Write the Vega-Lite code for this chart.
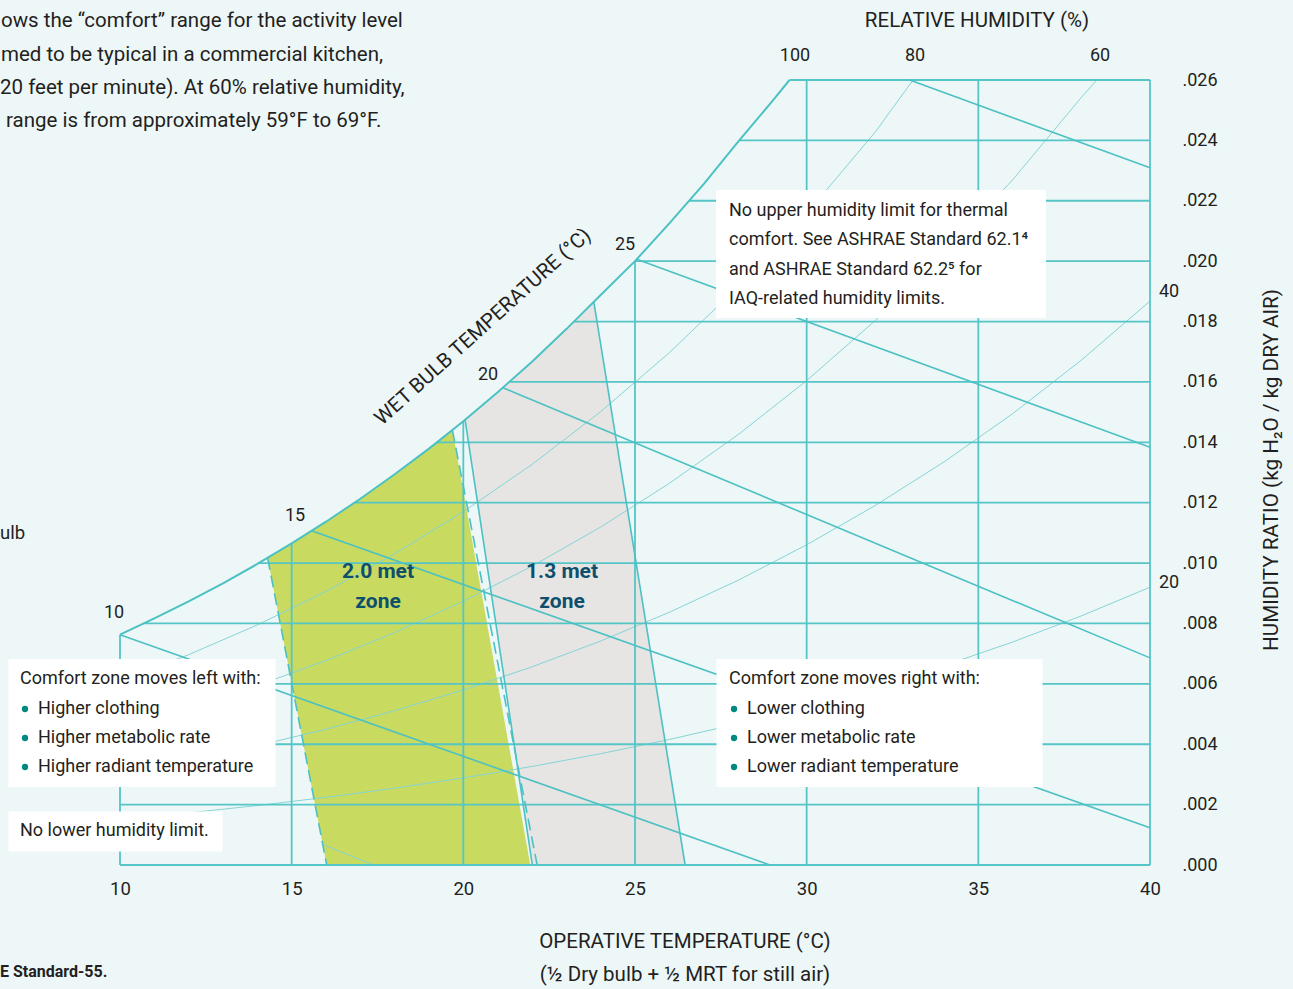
{
  "$schema": "https://vega.github.io/schema/vega-lite/v6.json",
  "width": 1030,
  "height": 785,
  "autosize": {"type": "none"},
  "padding": {"left": 120, "top": 80, "right": 143, "bottom": 124},
  "background": "#EEF7F8",
  "config": {
    "view": {"stroke": null},
    "font": "Liberation Sans Narrow, Roboto, sans-serif",
    "text": {"font": "Liberation Sans Narrow, Roboto, sans-serif", "color": "#231F20"}
  },
  "datasets": {
    "sat": [
      {"T": 10, "W": 0.00763}, {"T": 11, "W": 0.00817}, {"T": 12, "W": 0.00873}, {"T": 13, "W": 0.00933},
      {"T": 14, "W": 0.00997}, {"T": 15, "W": 0.01065}, {"T": 16, "W": 0.01137}, {"T": 17, "W": 0.01213},
      {"T": 18, "W": 0.01294}, {"T": 19, "W": 0.01379}, {"T": 20, "W": 0.0147}, {"T": 21, "W": 0.01566},
      {"T": 22, "W": 0.01667}, {"T": 23, "W": 0.01775}, {"T": 24, "W": 0.01888}, {"T": 25, "W": 0.02},
      {"T": 26, "W": 0.02125}, {"T": 27, "W": 0.02255}, {"T": 28, "W": 0.02395}, {"T": 29, "W": 0.0253},
      {"T": 29.5, "W": 0.026}
    ],
    "rh": [
      {"g": 80, "T": 10, "W": 0.00609}, {"g": 80, "T": 12, "W": 0.006966}, {"g": 80, "T": 14, "W": 0.007952},
      {"g": 80, "T": 16, "W": 0.009061}, {"g": 80, "T": 18, "W": 0.010307}, {"g": 80, "T": 20, "W": 0.011703},
      {"g": 80, "T": 22, "W": 0.013266}, {"g": 80, "T": 24, "W": 0.015015}, {"g": 80, "T": 26, "W": 0.016968},
      {"g": 80, "T": 28, "W": 0.019147}, {"g": 80, "T": 30, "W": 0.021577}, {"g": 80, "T": 32, "W": 0.024282},
      {"g": 80, "T": 33.1, "W": 0.026},
      {"g": 60, "T": 10, "W": 0.004557}, {"g": 60, "T": 12, "W": 0.00521}, {"g": 60, "T": 14, "W": 0.005945},
      {"g": 60, "T": 16, "W": 0.006771}, {"g": 60, "T": 18, "W": 0.007698}, {"g": 60, "T": 20, "W": 0.008736},
      {"g": 60, "T": 22, "W": 0.009897}, {"g": 60, "T": 24, "W": 0.011193}, {"g": 60, "T": 26, "W": 0.01264},
      {"g": 60, "T": 28, "W": 0.014251}, {"g": 60, "T": 30, "W": 0.016043}, {"g": 60, "T": 32, "W": 0.018036},
      {"g": 60, "T": 34, "W": 0.020241}, {"g": 60, "T": 36, "W": 0.022695}, {"g": 60, "T": 38, "W": 0.025424},
      {"g": 60, "T": 38.45, "W": 0.026},
      {"g": 40, "T": 10, "W": 0.00303}, {"g": 40, "T": 12, "W": 0.003463}, {"g": 40, "T": 14, "W": 0.003951},
      {"g": 40, "T": 16, "W": 0.004498}, {"g": 40, "T": 18, "W": 0.005111}, {"g": 40, "T": 20, "W": 0.005797},
      {"g": 40, "T": 22, "W": 0.006563}, {"g": 40, "T": 24, "W": 0.007418}, {"g": 40, "T": 26, "W": 0.00837},
      {"g": 40, "T": 28, "W": 0.009429}, {"g": 40, "T": 30, "W": 0.010604}, {"g": 40, "T": 32, "W": 0.011909},
      {"g": 40, "T": 34, "W": 0.01335}, {"g": 40, "T": 36, "W": 0.014948}, {"g": 40, "T": 38, "W": 0.016721},
      {"g": 40, "T": 40, "W": 0.018677},
      {"g": 20, "T": 10, "W": 0.001511}, {"g": 20, "T": 12, "W": 0.001727}, {"g": 20, "T": 14, "W": 0.001969},
      {"g": 20, "T": 16, "W": 0.002241}, {"g": 20, "T": 18, "W": 0.002545}, {"g": 20, "T": 20, "W": 0.002885},
      {"g": 20, "T": 22, "W": 0.003264}, {"g": 20, "T": 24, "W": 0.003687}, {"g": 20, "T": 26, "W": 0.004157},
      {"g": 20, "T": 28, "W": 0.004679}, {"g": 20, "T": 30, "W": 0.005257}, {"g": 20, "T": 32, "W": 0.005898},
      {"g": 20, "T": 34, "W": 0.006604}, {"g": 20, "T": 36, "W": 0.007385}, {"g": 20, "T": 38, "W": 0.00825},
      {"g": 20, "T": 40, "W": 0.0092}
    ],
    "hgrid": [
      {"W": 0, "T": 10, "T2": 40}, {"W": 0.002, "T": 10, "T2": 40}, {"W": 0.004, "T": 10, "T2": 40},
      {"W": 0.006, "T": 10, "T2": 40}, {"W": 0.008, "T": 10.685, "T2": 40}, {"W": 0.01, "T": 14.044, "T2": 40},
      {"W": 0.012, "T": 16.829, "T2": 40}, {"W": 0.014, "T": 19.231, "T2": 40}, {"W": 0.016, "T": 21.337, "T2": 40},
      {"W": 0.018, "T": 23.221, "T2": 40}, {"W": 0.02, "T": 25.0, "T2": 40}, {"W": 0.022, "T": 26.577, "T2": 40},
      {"W": 0.024, "T": 28.037, "T2": 40}, {"W": 0.026, "T": 29.5, "T2": 40}
    ],
    "vgrid": [
      {"T": 10, "W": 0, "W2": 0.00763}, {"T": 15, "W": 0, "W2": 0.01065}, {"T": 20, "W": 0, "W2": 0.0147},
      {"T": 25, "W": 0, "W2": 0.02}, {"T": 30, "W": 0, "W2": 0.026}, {"T": 35, "W": 0, "W2": 0.026},
      {"T": 40, "W": 0, "W2": 0.026}
    ],
    "wb": [
      {"T": 10, "W": 0.00763, "T2": 28.93, "W2": 0},
      {"T": 15.58, "W": 0.01107, "T2": 40, "W2": 0.00123},
      {"T": 21.15, "W": 0.01581, "T2": 40, "W2": 0.00686},
      {"T": 25.05, "W": 0.02006, "T2": 40, "W2": 0.01384},
      {"T": 33.0, "W": 0.026, "T2": 40, "W2": 0.02309},
      {"T": 20.05, "W": 0.01475, "T2": 22.01, "W2": 0},
      {"T": 23.8, "W": 0.018654, "T2": 26.46, "W2": 0}
    ],
    "dashed": [
      {"T": 14.3, "W": 0.01017, "T2": 16.02, "W2": 0},
      {"T": 19.68, "W": 0.01441, "T2": 22.15, "W2": 0}
    ],
    "thin": [
      {"T": 15.95, "W": 0.00066, "T2": 17.37, "W2": 0}
    ],
    "green": [
      {"W": 0, "T": 16.02, "T2": 21.95},
      {"W": 0.01017, "T": 14.3, "T2": 20.348},
      {"W": 0.0105, "T": 14.779, "T2": 20.296},
      {"W": 0.011, "T": 15.486, "T2": 20.218},
      {"W": 0.0115, "T": 16.171, "T2": 20.139},
      {"W": 0.012, "T": 16.829, "T2": 20.06},
      {"W": 0.0125, "T": 17.457, "T2": 19.981},
      {"W": 0.013, "T": 18.071, "T2": 19.903},
      {"W": 0.0135, "T": 18.659, "T2": 19.824},
      {"W": 0.014, "T": 19.231, "T2": 19.745},
      {"W": 0.01441, "T": 19.68, "T2": 19.68}
    ],
    "gray": [
      {"W": 0, "T": 22.01, "T2": 26.46},
      {"W": 0.01475, "T": 20.05, "T2": 24.357},
      {"W": 0.0155, "T": 20.833, "T2": 24.25},
      {"W": 0.016, "T": 21.337, "T2": 24.178},
      {"W": 0.0165, "T": 21.832, "T2": 24.107},
      {"W": 0.017, "T": 22.306, "T2": 24.036},
      {"W": 0.0175, "T": 22.769, "T2": 23.965},
      {"W": 0.018, "T": 23.221, "T2": 23.893},
      {"W": 0.018654, "T": 23.8, "T2": 23.8}
    ],
    "boxes": [
      {"T": 27.359, "T2": 36.971, "W": 0.022357, "W2": 0.018117},
      {"T": 6.752, "T2": 14.529, "W": 0.006823, "W2": 0.002583},
      {"T": 6.752, "T2": 12.985, "W": 0.001772, "W2": 0.000447},
      {"T": 27.374, "T2": 36.869, "W": 0.006823, "W2": 0.002583}
    ],
    "para": [
      {"T": 6.534, "W": 0.027954, "text": "ows the “comfort” range for the activity level"},
      {"T": 6.534, "W": 0.026828, "text": "med to be typical in a commercial kitchen,"},
      {"T": 6.505, "W": 0.025735, "text": "20 feet per minute). At 60% relative humidity,"},
      {"T": 6.68, "W": 0.024642, "text": "range is from approximately 59°F to 69°F."}
    ],
    "side": [
      {"T": 6.505, "W": 0.010996, "text": "ulb"}
    ],
    "foot": [
      {"T": 6.505, "W": -0.003544, "text": "E Standard-55."}
    ],
    "titles": [
      {"T": 34.961, "W": 0.027954, "text": "RELATIVE HUMIDITY (%)"},
      {"T": 26.456, "W": -0.00255, "text": "OPERATIVE TEMPERATURE (°C)"},
      {"T": 26.456, "W": -0.003643, "text": "(½ Dry bulb + ½ MRT for still air)"}
    ],
    "labels": [
      {"T": 29.66, "W": 0.026795, "text": "100"},
      {"T": 33.155, "W": 0.026795, "text": "80"},
      {"T": 38.544, "W": 0.026795, "text": "60"},
      {"T": 40.553, "W": 0.018978, "text": "40"},
      {"T": 40.553, "W": 0.00934, "text": "20"},
      {"T": 9.825, "W": 0.008346, "text": "10"},
      {"T": 15.097, "W": 0.011559, "text": "15"},
      {"T": 20.718, "W": 0.016229, "text": "20"},
      {"T": 24.709, "W": 0.020535, "text": "25"}
    ],
    "wbtitle": [
      {"T": 20.573, "W": 0.017819, "text": "WET BULB TEMPERATURE (°C)"}
    ],
    "rtitle": [
      {"T": 43.553, "W": 0.013083, "text": "HUMIDITY RATIO (kg H₂O / kg DRY AIR)"}
    ],
    "zone": [
      {"T": 17.515, "W": 0.009704, "text": "2.0 met"},
      {"T": 17.515, "W": 0.008711, "text": "zone"},
      {"T": 22.874, "W": 0.009704, "text": "1.3 met"},
      {"T": 22.874, "W": 0.008711, "text": "zone"}
    ],
    "boxtext": [
      {"T": 27.738, "W": 0.021661, "text": "No upper humidity limit for thermal"},
      {"T": 27.738, "W": 0.020701, "text": "comfort. See ASHRAE Standard 62.1⁴"},
      {"T": 27.738, "W": 0.019707, "text": "and ASHRAE Standard 62.2⁵ for"},
      {"T": 27.738, "W": 0.018747, "text": "IAQ-related humidity limits."},
      {"T": 7.087, "W": 0.00616, "text": "Comfort zone moves left with:"},
      {"T": 7.612, "W": 0.005167, "text": "Higher clothing"},
      {"T": 7.612, "W": 0.004206, "text": "Higher metabolic rate"},
      {"T": 7.612, "W": 0.003246, "text": "Higher radiant temperature"},
      {"T": 7.087, "W": 0.001126, "text": "No lower humidity limit."},
      {"T": 27.738, "W": 0.00616, "text": "Comfort zone moves right with:"},
      {"T": 28.262, "W": 0.005167, "text": "Lower clothing"},
      {"T": 28.262, "W": 0.004206, "text": "Lower metabolic rate"},
      {"T": 28.262, "W": 0.003246, "text": "Lower radiant temperature"}
    ],
    "bullets": [
      {"T": 7.233, "W": 0.005167}, {"T": 7.233, "W": 0.004206}, {"T": 7.233, "W": 0.003246},
      {"T": 27.884, "W": 0.005167}, {"T": 27.884, "W": 0.004206}, {"T": 27.884, "W": 0.003246}
    ]
  },
  "encoding": {
    "x": {
      "field": "T", "type": "quantitative",
      "scale": {"domain": [10, 40], "nice": false, "zero": false},
      "axis": {
        "orient": "bottom", "values": [10, 15, 20, 25, 30, 35, 40], "title": null,
        "domain": false, "ticks": false, "grid": false, "labelFlush": false,
        "labelPadding": 23, "labelBaseline": "middle", "labelFontSize": 18.5,
        "labelColor": "#231F20", "labelFont": "Liberation Sans Narrow, Roboto, sans-serif"
      }
    },
    "y": {
      "field": "W", "type": "quantitative",
      "scale": {"domain": [0, 0.026], "nice": false, "zero": false},
      "axis": {
        "orient": "right",
        "values": [0, 0.002, 0.004, 0.006, 0.008, 0.01, 0.012, 0.014, 0.016, 0.018, 0.02, 0.022, 0.024, 0.026],
        "labelExpr": "replace(format(datum.value, '.3f'), '0.', '.')",
        "title": null, "domain": false, "ticks": false, "grid": false, "labelFlush": false,
        "labelPadding": 32, "labelAlign": "left", "labelBaseline": "middle", "labelFontSize": 18,
        "labelColor": "#231F20", "labelFont": "Liberation Sans Narrow, Roboto, sans-serif"
      }
    }
  },
  "layer": [
    {"data": {"name": "gray"}, "mark": {"type": "area", "orient": "horizontal", "color": "#E6E5E3", "opacity": 1}, "encoding": {"x2": {"field": "T2"}}},
    {"data": {"name": "green"}, "mark": {"type": "area", "orient": "horizontal", "color": "#C8DA60", "opacity": 1}, "encoding": {"x2": {"field": "T2"}}},
    {"data": {"name": "rh"}, "mark": {"type": "line", "color": "#86D4D5", "strokeWidth": 1}, "encoding": {"detail": {"field": "g", "type": "nominal"}}},
    {"data": {"name": "thin"}, "mark": {"type": "rule", "color": "#86D4D5", "strokeWidth": 1}, "encoding": {"x2": {"field": "T2"}, "y2": {"field": "W2"}}},
    {"data": {"name": "hgrid"}, "mark": {"type": "rule", "color": "#55C5C6", "strokeWidth": 1.8}, "encoding": {"x2": {"field": "T2"}}},
    {"data": {"name": "vgrid"}, "mark": {"type": "rule", "color": "#55C5C6", "strokeWidth": 1.8}, "encoding": {"y2": {"field": "W2"}}},
    {"data": {"name": "wb"}, "mark": {"type": "rule", "color": "#4CC1C3", "strokeWidth": 1.6}, "encoding": {"x2": {"field": "T2"}, "y2": {"field": "W2"}}},
    {"data": {"name": "dashed"}, "mark": {"type": "rule", "color": "#4CC1C3", "strokeWidth": 1.6, "strokeDash": [12, 6]}, "encoding": {"x2": {"field": "T2"}, "y2": {"field": "W2"}}},
    {"data": {"name": "sat"}, "mark": {"type": "line", "color": "#4CC1C3", "strokeWidth": 2}, "encoding": {}},
    {"data": {"name": "boxes"}, "mark": {"type": "rect", "color": "#FFFFFF", "opacity": 1}, "encoding": {"x2": {"field": "T2"}, "y2": {"field": "W2"}}},
    {"data": {"name": "bullets"}, "mark": {"type": "point", "shape": "circle", "filled": true, "size": 40, "color": "#00897F", "opacity": 1}, "encoding": {}},
    {"data": {"name": "boxtext"}, "mark": {"type": "text", "align": "left", "baseline": "middle", "fontSize": 18}, "encoding": {"text": {"field": "text"}}},
    {"data": {"name": "para"}, "mark": {"type": "text", "align": "left", "baseline": "middle", "fontSize": 20.5}, "encoding": {"text": {"field": "text"}}},
    {"data": {"name": "side"}, "mark": {"type": "text", "align": "left", "baseline": "middle", "fontSize": 18.5}, "encoding": {"text": {"field": "text"}}},
    {"data": {"name": "foot"}, "mark": {"type": "text", "align": "left", "baseline": "middle", "fontSize": 16, "fontWeight": "bold"}, "encoding": {"text": {"field": "text"}}},
    {"data": {"name": "titles"}, "mark": {"type": "text", "align": "center", "baseline": "middle", "fontSize": 20.5}, "encoding": {"text": {"field": "text"}}},
    {"data": {"name": "labels"}, "mark": {"type": "text", "align": "center", "baseline": "middle", "fontSize": 18}, "encoding": {"text": {"field": "text"}}},
    {"data": {"name": "wbtitle"}, "mark": {"type": "text", "align": "center", "baseline": "middle", "fontSize": 20.5, "angle": 318}, "encoding": {"text": {"field": "text"}}},
    {"data": {"name": "rtitle"}, "mark": {"type": "text", "align": "center", "baseline": "middle", "fontSize": 20.7, "angle": 270}, "encoding": {"text": {"field": "text"}}},
    {"data": {"name": "zone"}, "mark": {"type": "text", "align": "center", "baseline": "middle", "fontSize": 21, "fontWeight": "bold", "color": "#0E4F6E"}, "encoding": {"text": {"field": "text"}}}
  ]
}
